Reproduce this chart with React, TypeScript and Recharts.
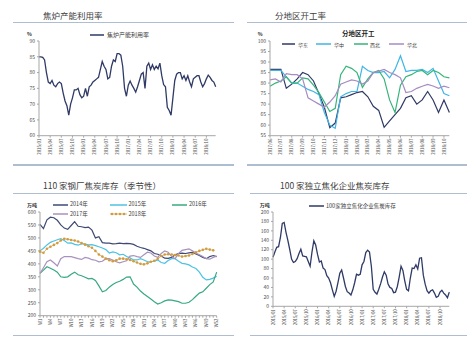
import React from 'react';
import { LineChart, Line, XAxis, YAxis } from 'recharts';

const FONT = '"Noto Sans CJK SC", "Noto Sans", sans-serif';
const TICK_COLOR = '#4d4d4d';
const AXIS_COLOR = '#a6a6a6';
const SEP_COLOR = '#aebdd0';
const NAVY = '#2f3a66';

// ---------- categories ----------
const months = ['01', '02', '03', '04', '05', '06', '07', '08', '09', '10', '11', '12'];
const years = ['2015', '2016', '2017', '2018'];
const halfMonthCats = years.flatMap((y) => months.flatMap((m) => [`${y}/${m}`, `${y}/${m}b`]));
const regionMonths = ['2017/06', '2017/07', '2017/08', '2017/09', '2017/10', '2017/11', '2017/12', '2018/01', '2018/02', '2018/03', '2018/04', '2018/05', '2018/06', '2018/07', '2018/08', '2018/09', '2018/10'];
const regionCats = regionMonths.flatMap((m) => [m, `${m}b`]);
const weekCats = ['W1','W2','W3','W4','W5','W6','W7','W8','W9','W10','W11','W12','W13','W14','W15','W16','W17','W18','W19','W20','W21','W22','W23','W24','W25','W26','W27','W28','W29','W30','W31','W32','W33','W34','W35','W36','W37','W38','W39','W40','W41','W42','W43','W44','W45','W46','W47','W48','W49','W50','W51','W52'];

// ---------- panel 1: 焦炉产能利用率 ----------
const cokeOvenUtil = [85,85,84.8,84,80,77,76.5,77.5,76,75.5,76.5,77,76.5,73.5,71,69.5,66.5,70,72,74.5,74.5,75,73,72,72.5,75,72.5,75.5,76,77,77.5,78,78.5,81,83.5,82,81,78,78.5,82,84,83.5,86,86,85.5,82,75,72.5,76,77.3,76,75,73.8,75.5,77.5,79.5,80,75,82,83,81,82.5,81,82,81.2,83,79,76.2,75.5,69,68,66.5,72,77.5,79.5,80,80,78,79,77.5,79,77,75.5,78,78.5,79,79,77,75.5,76.5,78,79.2,78.5,77.5,77,75.5];
const utilTicks = [60, 65, 70, 75, 80, 85, 90];

// ---------- panel 2: 分地区开工率 ----------
const eastChina = [86.5,86.5,86.5,77.5,79.5,82,85,84,81,75,68.5,58.8,61,73,73.5,74.5,75.5,76,73.5,69,67,59,62,65,68,73,74,70,72,76,72,66,72,66];
const centralChina = [86,86,86,83,80,80,78.5,77,76,74.5,66,60,58.5,73.5,75,76,76,88,86,85,85,85.5,82.5,86.5,93,85.5,86,86,86.5,85,87,81,75,74];
const northwest = [78.5,80,81,83,80,80,82.5,82,79,75.5,71,66.5,68,84,88,87,85,78,82,85,86,82,72,66,79,83,84,85.5,86,84,86,85,83,82.5];
const northChina = [81.5,82,80.5,84.5,84,84,82,73,71.5,70,68.5,71,74,79.5,80.5,81.5,81,79.5,81,85,85.7,86.5,85,84,82.5,75.5,76,77.5,78.5,79.4,78.6,77.5,78.5,77.8];
const regionTicks = [55, 60, 65, 70, 75, 80, 85, 90, 95, 100];
const regionSeries = [
  { key: 'east', name: '华东', color: '#2f3a66', values: eastChina },
  { key: 'central', name: '华中', color: '#3fb6e6', values: centralChina },
  { key: 'nw', name: '西北', color: '#35b57a', values: northwest },
  { key: 'north', name: '华北', color: '#a58cc2', values: northChina },
];

// ---------- panel 3: 110家钢厂焦炭库存（季节性） ----------
const stock2014 = [552,536,570,580,578,568,550,538,533,548,563,545,543,540,542,530,500,505,482,480,480,477,478,480,478,479,478,475,468,463,460,455,450,440,437,430,422,421,425,435,440,441,440,442,444,438,432,425,420,428,432,428];
const stock2015 = [450,460,473,483,488,493,497,490,480,481,475,472,478,476,473,474,470,466,461,455,442,446,443,435,437,428,423,415,415,420,415,408,408,410,415,405,402,413,420,420,410,402,400,396,388,382,368,348,338,340,345,352];
const stock2016 = [363,376,389,383,376,368,350,348,350,360,368,358,354,348,342,344,336,315,292,297,310,320,328,333,340,349,350,322,310,295,284,274,264,254,245,250,257,261,260,257,254,248,248,252,262,275,287,292,306,320,330,368];
const stock2017 = [363,385,408,415,404,392,420,428,428,428,424,420,417,425,422,416,414,408,410,420,420,415,408,404,408,412,430,432,428,425,435,445,442,430,425,440,450,445,428,420,440,452,455,458,450,442,435,428,420,418,425,430];
const stock2018 = [447,443,458,466,473,480,490,497,495,492,490,486,480,474,468,462,450,436,428,420,414,410,414,420,420,418,415,410,405,400,398,402,408,412,420,430,436,437,436,434,432,428,430,432,438,445,450,454,458,455,452,null];
const steelTicks = [200, 250, 300, 350, 400, 450, 500, 550, 600];
const steelSeries = [
  { key: 'y2014', name: '2014年', color: '#3e4a72', values: stock2014 },
  { key: 'y2015', name: '2015年', color: '#4cc3e3', values: stock2015 },
  { key: 'y2016', name: '2016年', color: '#38a982', values: stock2016 },
  { key: 'y2017', name: '2017年', color: '#a892bd', values: stock2017 },
  { key: 'y2018', name: '2018年', color: '#c9a762', values: stock2018 },
];

// ---------- panel 4: 100家独立焦化企业焦炭库存 ----------
const cokingStock = [104,115,125,126.5,146,176,178,157,140,121,100,93,95,101,112,121,107,106,105,95,85,115,139,130,110,94,96,81,78,65,60,50,35,21,32,50,70,77,60,42,31,28,24,35,50,68,66,68,88,95,114,119,115,85,36,29.7,26,36,48,62,73,66,47,40,38,29,30,42,62,85,76,54,36,33,60,81,80,88,79,102,103,66,47,33,28,33,35,28,19,21,30,34,28,24,18,30];
const cokingTicks = [0, 20, 40, 60, 80, 100, 120, 140, 160, 180, 200];

// ---------- tables ----------
const utilData = halfMonthCats.map((cat, i) => ({ cat, util: cokeOvenUtil[i] }));
const regionData = regionCats.map((cat, i) => {
  const row: any = { cat };
  regionSeries.forEach((s) => { row[s.key] = s.values[i]; });
  return row;
});
const steelData = weekCats.map((cat, i) => {
  const row: any = { cat };
  steelSeries.forEach((s) => { row[s.key] = s.values[i]; });
  return row;
});
const cokingData = halfMonthCats.map((cat, i) => ({ cat, stock: cokingStock[i] }));

// ---------- helpers ----------
const makeRotTick = (every: number) => (props: any) => {
  const { x, y, payload, index } = props;
  if (index % every !== 0) return <g />;
  return (
    <text x={x} y={y} transform={`rotate(-90 ${x} ${y})`} textAnchor="end" dy={1.6} fontSize={4.3} fill={TICK_COLOR} fontFamily={FONT}>
      {String(payload.value)}
    </text>
  );
};

type BoxProps = {
  left: number; top: number; w: number; h: number; data: any[];
  yDomain: [number, number]; yTicks: number[]; xInterval: number; labelEvery: number; children: React.ReactNode;
};

function ChartBox({ left, top, w, h, data, yDomain, yTicks, xInterval, labelEvery, children }: BoxProps) {
  const WY = 24, MT = 5, MR = 5, HX = 20;
  return (
    <div style={{ position: 'absolute', left: left - WY, top: top - MT }}>
      <LineChart width={w + WY + MR} height={h + MT + HX} data={data} margin={{ top: MT, right: MR, left: 0, bottom: 0 }}>
        <XAxis dataKey="cat" interval={xInterval} height={HX} tick={makeRotTick(labelEvery)} tickSize={2} tickMargin={1}
          axisLine={{ stroke: AXIS_COLOR }} tickLine={{ stroke: AXIS_COLOR }} />
        <YAxis width={WY} domain={yDomain} ticks={yTicks} interval={0} allowDataOverflow
          tick={{ fontSize: 5, fill: TICK_COLOR, fontFamily: FONT }} tickSize={2} tickMargin={2}
          axisLine={{ stroke: AXIS_COLOR }} tickLine={{ stroke: AXIS_COLOR }} />
        {children}
      </LineChart>
    </div>
  );
}

const Txt = ({ x, y, size, children, bold, color }: any) => (
  <div style={{ position: 'absolute', left: x, top: y - size / 2, fontSize: size, lineHeight: `${size}px`, whiteSpace: 'nowrap', fontWeight: bold ? 700 : 400, color: color || '#404040', fontFamily: FONT }}>
    {children}
  </div>
);

const Sep = ({ x1, x2, y }: any) => (
  <div style={{ position: 'absolute', left: x1, top: y - 0.75, width: x2 - x1, height: 1.5, background: SEP_COLOR }} />
);

const Swatch = ({ x1, x2, y, color, dots }: any) => (
  <svg style={{ position: 'absolute', left: x1, top: y - 3 }} width={x2 - x1} height={6}>
    <line x1={0} y1={3} x2={x2 - x1} y2={3} stroke={color} strokeWidth={dots ? 0.8 : 1.5} />
    {dots ? [2, 6, 10, 14].map((cx) => <circle key={cx} cx={cx} cy={3} r={1.3} fill="#d39b3c" />) : null}
  </svg>
);

export default function App() {
  return (
    <div style={{ position: 'absolute', left: 0, top: 0, width: 474, height: 346, background: '#fff', overflow: 'hidden', fontFamily: FONT }}>
      {/* titles */}
      <Txt x={43} y={15} size={8.5}>焦炉产能利用率</Txt>
      <Txt x={275} y={15} size={8.5}>分地区开工率</Txt>
      <Txt x={43} y={185.7} size={8.5}>110 家钢厂焦炭库存（季节性）</Txt>
      <Txt x={280} y={185.7} size={8.5}>100 家独立焦化企业焦炭库存</Txt>

      {/* separators */}
      <Sep x1={13} x2={234} y={22.7} />
      <Sep x1={13} x2={234} y={165} />
      <Sep x1={247} x2={467} y={22.7} />
      <Sep x1={247} x2={467} y={165} />
      <Sep x1={13} x2={234} y={193.7} />
      <Sep x1={13} x2={234} y={335.7} />
      <Sep x1={250} x2={467} y={193.7} />
      <Sep x1={250} x2={467} y={335.7} />

      {/* panel 1 */}
      <ChartBox left={39} top={41.3} w={176.7} h={94.7} data={utilData} yDomain={[60, 90]} yTicks={utilTicks} xInterval={5} labelEvery={1}>
        <Line dataKey="util" name="焦炉产能利用率" stroke={NAVY} strokeWidth={1.3} dot={false} isAnimationActive={false} />
      </ChartBox>
      <Txt x={27} y={33} size={5} bold color="#333">%</Txt>
      <Swatch x1={90} x2={104} y={35} color={NAVY} />
      <Txt x={107} y={35} size={6}>焦炉产能利用率</Txt>

      {/* panel 2 */}
      <ChartBox left={270.3} top={41.3} w={179.4} h={94.7} data={regionData} yDomain={[55, 100]} yTicks={regionTicks} xInterval={1} labelEvery={1}>
        {regionSeries.map((s) => (
          <Line key={s.key} dataKey={s.key} name={s.name} stroke={s.color} strokeWidth={1.2} dot={false} isAnimationActive={false} />
        ))}
      </ChartBox>
      <Txt x={257.7} y={33} size={5} bold color="#333">%</Txt>
      <Txt x={342} y={33.3} size={6.5} bold color="#222">分地区开工</Txt>
      <Swatch x1={282} x2={295} y={44.3} color={regionSeries[0].color} />
      <Txt x={298} y={44.3} size={5}>华东</Txt>
      <Swatch x1={316} x2={331} y={44.3} color={regionSeries[1].color} />
      <Txt x={334} y={44.3} size={5}>华中</Txt>
      <Swatch x1={354} x2={368} y={44.3} color={regionSeries[2].color} />
      <Txt x={370} y={44.3} size={5}>西北</Txt>
      <Swatch x1={389} x2={404} y={44.3} color={regionSeries[3].color} />
      <Txt x={407} y={44.3} size={5}>华北</Txt>

      {/* panel 3 */}
      <ChartBox left={40} top={212} w={176.7} h={103.7} data={steelData} yDomain={[200, 600]} yTicks={steelTicks} xInterval={0} labelEvery={3}>
        {steelSeries.map((s) =>
          s.key === 'y2018' ? (
            <Line key={s.key} dataKey={s.key} name={s.name} stroke={s.color} strokeWidth={0.8} dot={{ r: 1.3, fill: '#d39b3c', stroke: 'none' }} isAnimationActive={false} />
          ) : (
            <Line key={s.key} dataKey={s.key} name={s.name} stroke={s.color} strokeWidth={1.2} dot={false} isAnimationActive={false} />
          )
        )}
      </ChartBox>
      <Txt x={27} y={204.7} size={5} bold color="#333">万吨</Txt>
      <Swatch x1={53} x2={68} y={204.7} color={steelSeries[0].color} />
      <Txt x={70} y={204.7} size={5.5}>2014年</Txt>
      <Swatch x1={110} x2={127} y={204.7} color={steelSeries[1].color} />
      <Txt x={128.5} y={204.7} size={5.5}>2015年</Txt>
      <Swatch x1={172} x2={187} y={204.7} color={steelSeries[2].color} />
      <Txt x={189} y={204.7} size={5.5}>2016年</Txt>
      <Swatch x1={53} x2={68} y={214.3} color={steelSeries[3].color} />
      <Txt x={70} y={214.3} size={5.5}>2017年</Txt>
      <Swatch x1={110} x2={127} y={214.3} color={steelSeries[4].color} dots />
      <Txt x={128.5} y={214.3} size={5.5}>2018年</Txt>

      {/* panel 4 */}
      <ChartBox left={272.7} top={212} w={176.3} h={94.3} data={cokingData} yDomain={[0, 200]} yTicks={cokingTicks} xInterval={5} labelEvery={1}>
        <Line dataKey="stock" name="100家独立焦化企业焦炭库存" stroke={NAVY} strokeWidth={1.3} dot={false} isAnimationActive={false} />
      </ChartBox>
      <Txt x={259.7} y={204.7} size={5} bold color="#333">万吨</Txt>
      <Swatch x1={308.7} x2={324.3} y={206.3} color={NAVY} />
      <Txt x={326} y={206.3} size={5.5}>100家独立焦化企业焦炭库存</Txt>
    </div>
  );
}
